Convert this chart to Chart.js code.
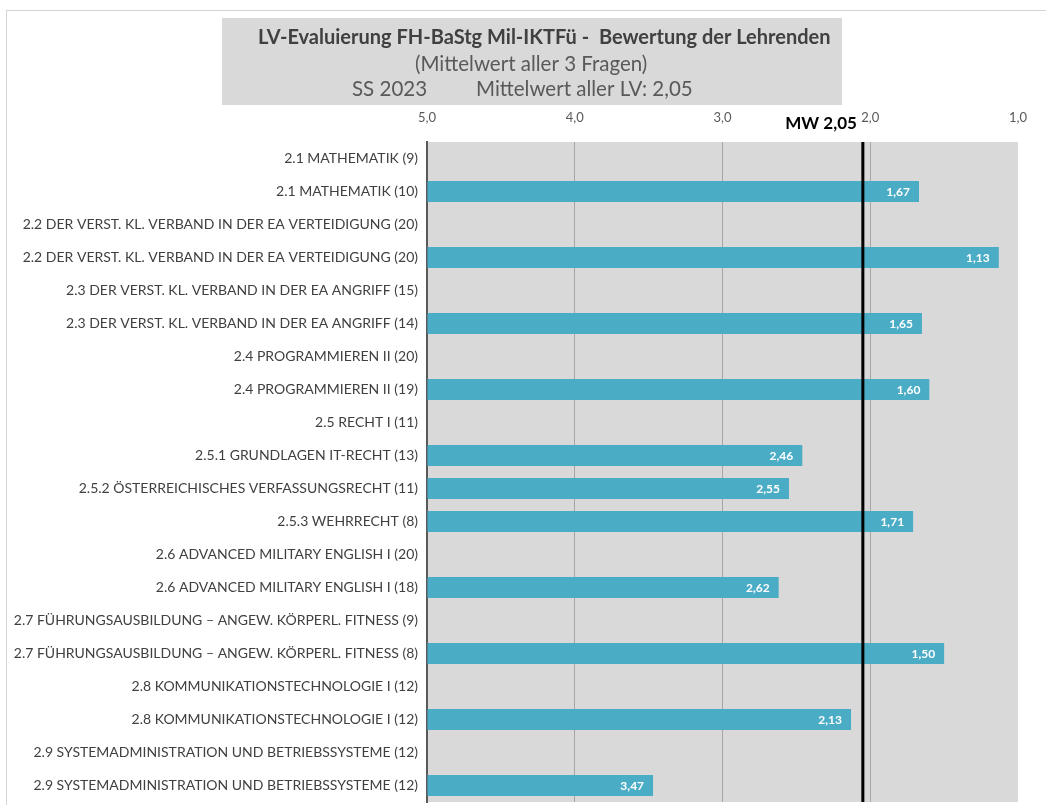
<!DOCTYPE html>
<html>
<head>
<meta charset="utf-8">
<script src="https://cdn.jsdelivr.net/npm/chart.js@4.4.0/dist/chart.umd.min.js"></script>
<style>
  html, body { margin: 0; padding: 0; background: #ffffff; }
  #wrap { width: 1046px; height: 805px; position: relative; }
</style>
</head>
<body>
<div id="wrap"><canvas id="c" width="1046" height="805"></canvas></div>
<script>
// Lehrveranstaltungen (Anzahl der Antworten in Klammern)
const courses = [
  "2.1 MATHEMATIK (9)",
  "2.1 MATHEMATIK (10)",
  "2.2 DER VERST. KL. VERBAND IN DER EA VERTEIDIGUNG (20)",
  "2.2 DER VERST. KL. VERBAND IN DER EA VERTEIDIGUNG (20)",
  "2.3 DER VERST. KL. VERBAND IN DER EA ANGRIFF (15)",
  "2.3 DER VERST. KL. VERBAND IN DER EA ANGRIFF (14)",
  "2.4 PROGRAMMIEREN II (20)",
  "2.4 PROGRAMMIEREN II (19)",
  "2.5 RECHT I (11)",
  "2.5.1 GRUNDLAGEN IT-RECHT (13)",
  "2.5.2 ÖSTERREICHISCHES VERFASSUNGSRECHT (11)",
  "2.5.3 WEHRRECHT (8)",
  "2.6 ADVANCED MILITARY ENGLISH I (20)",
  "2.6 ADVANCED MILITARY ENGLISH I (18)",
  "2.7 FÜHRUNGSAUSBILDUNG – ANGEW. KÖRPERL. FITNESS (9)",
  "2.7 FÜHRUNGSAUSBILDUNG – ANGEW. KÖRPERL. FITNESS (8)",
  "2.8 KOMMUNIKATIONSTECHNOLOGIE I (12)",
  "2.8 KOMMUNIKATIONSTECHNOLOGIE I (12)",
  "2.9 SYSTEMADMINISTRATION UND BETRIEBSSYSTEME (12)",
  "2.9 SYSTEMADMINISTRATION UND BETRIEBSSYSTEME (12)"
];

// Mittelwert der Bewertung der Lehrenden (null = keine Auswertung)
const ratings = [
  null, 1.67,
  null, 1.13,
  null, 1.65,
  null, 1.60,
  null, 2.46, 2.55, 1.71,
  null, 2.62,
  null, 1.50,
  null, 2.13,
  null, 3.47
];

// Notenskala (5 = schlechteste, 1 = beste Bewertung)
const scaleWorst = 5;
const scaleBest = 1;
const overallMean = 2.05;

const titleLines = [
  "LV-Evaluierung FH-BaStg Mil-IKTFü -  Bewertung der Lehrenden",
  "(Mittelwert aller 3 Fragen)",
  "SS 2023",
  "Mittelwert aller LV: 2,05"
];
const meanLabel = "MW 2,05";

const FONT = "Lato, 'Open Sans', sans-serif";
const fmt = v => v.toFixed(2).replace('.', ',');

// Rahmen, Titelbox und grauer Diagrammhintergrund
const backdrop = {
  id: 'backdrop',
  beforeDraw(chart) {
    const ctx = chart.ctx;
    const a = chart.chartArea;
    ctx.save();
    ctx.strokeStyle = '#d4d4d4';
    ctx.lineWidth = 1;
    ctx.strokeRect(6.5, 10.5, 1100, 900);
    // Titelbox
    ctx.fillStyle = '#d9d9d9';
    ctx.fillRect(222, 18, 620, 87);
    ctx.textBaseline = 'middle';
    ctx.textAlign = 'left';
    ctx.fillStyle = '#404040';
    ctx.font = "bold 20px " + FONT;
    ctx.fillText(titleLines[0], 258, 38);
    ctx.fillStyle = '#595959';
    ctx.font = "20.5px " + FONT;
    ctx.fillText(titleLines[1], 415, 64);
    ctx.fillText(titleLines[2], 352, 89);
    ctx.fillText(titleLines[3], 476, 89);
    // Plotfläche
    ctx.fillStyle = '#d9d9d9';
    ctx.fillRect(a.left, a.top, a.right - a.left, a.bottom - a.top);
    ctx.restore();
  }
};

// Mittelwertlinie und Wertbeschriftungen
const overlay = {
  id: 'overlay',
  afterDatasetsDraw(chart) {
    const ctx = chart.ctx;
    const a = chart.chartArea;
    const xs = chart.scales.x;
    ctx.save();
    // Wertbeschriftungen in den Balken
    const meta = chart.getDatasetMeta(0);
    ctx.font = "bold 12px " + FONT;
    ctx.fillStyle = '#ffffff';
    ctx.textAlign = 'right';
    ctx.textBaseline = 'middle';
    meta.data.forEach((bar, i) => {
      const v = ratings[i];
      if (v == null) return;
      ctx.fillText(fmt(v), bar.x - 9, bar.y + 1);
    });
    // Mittelwert aller LV
    const mx = xs.getPixelForValue(overallMean);
    ctx.strokeStyle = '#000000';
    ctx.lineWidth = 3;
    ctx.beginPath();
    ctx.moveTo(mx, a.top);
    ctx.lineTo(mx, a.bottom);
    ctx.stroke();
    ctx.fillStyle = '#000000';
    ctx.font = "bold 17px " + FONT;
    ctx.textAlign = 'right';
    ctx.fillText(meanLabel, mx - 6, 124);
    ctx.restore();
  }
};

new Chart(document.getElementById('c'), {
  type: 'bar',
  data: {
    labels: courses,
    datasets: [{
      data: ratings,
      base: scaleWorst,
      backgroundColor: '#4bacc6',
      borderWidth: 0,
      categoryPercentage: 1,
      barPercentage: 0.64
    }]
  },
  options: {
    indexAxis: 'y',
    responsive: false,
    animation: false,
    layout: { padding: { left: 0, right: 28, top: 100, bottom: 3 } },
    plugins: { legend: { display: false }, tooltip: { enabled: false }, title: { display: false } },
    scales: {
      x: {
        position: 'top',
        reverse: true,
        min: scaleBest,
        max: scaleWorst,
        afterFit(s) { s.height = 42; },
        border: { display: false },
        grid: {
          drawTicks: false,
          color: c => (c.tick && (c.tick.value === scaleWorst || c.tick.value === scaleBest)) ? 'rgba(0,0,0,0)' : '#a6a6a6',
          lineWidth: 1
        },
        ticks: {
          stepSize: 1,
          padding: 16,
          color: '#595959',
          font: { family: FONT, size: 13 },
          callback: v => Number(v).toFixed(1).replace('.', ',')
        }
      },
      y: {
        afterFit(s) { s.width = 427; s.paddingTop = 0; s.paddingBottom = 0; },
        border: { display: true, color: '#595959', width: 2 },
        grid: { display: false, drawTicks: false },
        ticks: {
          autoSkip: false,
          padding: 9,
          color: '#404040',
          font: { family: FONT, size: 14 }
        }
      }
    }
  },
  plugins: [backdrop, overlay]
});
</script>
</body>
</html>
